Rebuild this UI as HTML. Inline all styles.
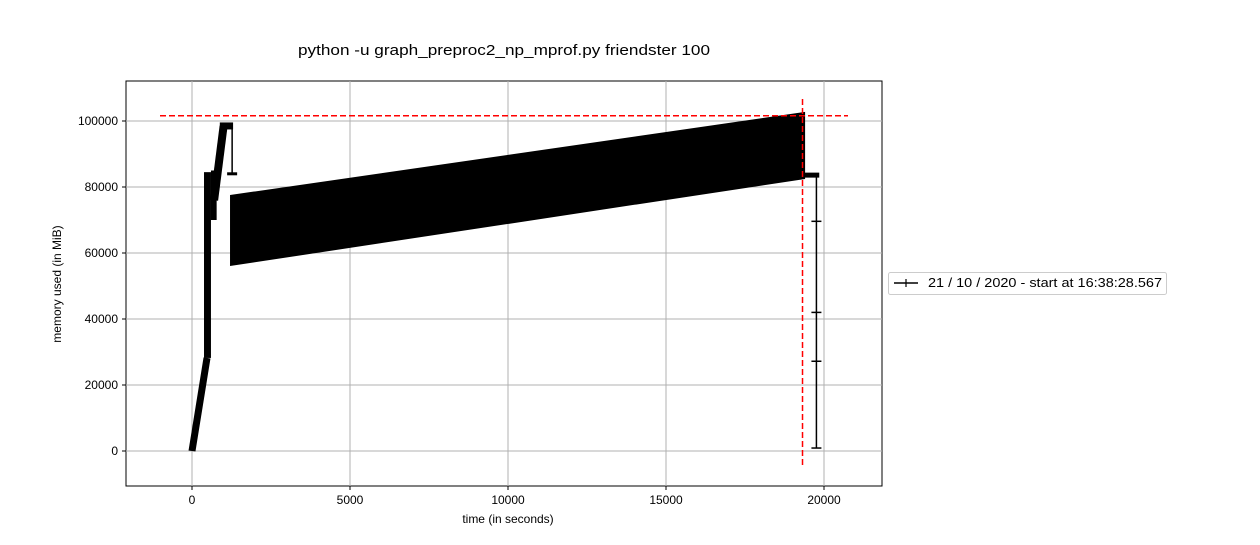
<!DOCTYPE html>
<html><head><meta charset="utf-8"><style>
body{margin:0;background:#fff;width:1260px;height:540px;overflow:hidden}
svg text{font-family:"Liberation Sans","DejaVu Sans",sans-serif;fill:#000}
</style></head><body>
<svg id="c" width="1260" height="540"></svg>
<script>
// data (time in s, memory in MiB)
const xTicks=[0,5000,10000,15000,20000];
const yTicks=[0,20000,40000,60000,80000,100000];
const startT=[0,475];            const startM=[0,28200];
const blockT=[380,600];          const blockM=[28200,84500];
const block2T=[600,780];         const block2M=[70000,85000];
const climbT=[700,1000];         const climbM=[76000,98500];
const flatT=[880,1300];          const flatM=[98500,98500];
const dropT=[1270,1270];         const dropM=[98500,84000];
const bandT=[1235,19370];        const bandTop=[77300,102400]; const bandBot=[56400,82700];
const tailT=[19370,19850];       const tailM=[83600,83600];
const fallT=[19760,19760];       const fallM=[83600,900];
const fallMarks=[69600,42000,27200,900];
const peakM=101600, peakT=19320;
const X=t=>192+(t/5000)*158, Y=m=>451-(m/20000)*66;
const svg=document.getElementById('c'),NS='http://www.w3.org/2000/svg';
function el(tag,attrs,name,txt){const e=document.createElementNS(NS,tag);for(const k in attrs)e.setAttribute(k,attrs[k]);


if(txt!==undefined)e.textContent=txt;svg.appendChild(e);return e;}
el('rect',{x:126,y:81,width:756,height:405,fill:'#fff',stroke:'#000','stroke-width':1},'plot-area');
xTicks.forEach(t=>{const x=X(t);el('line',{x1:x,x2:x,y1:81,y2:486,stroke:'#b0b0b0'},'x-gridline');
el('line',{x1:x,x2:x,y1:486,y2:490,stroke:'#000'},'x-tick');
el('text',{x:x,y:504,'text-anchor':'middle','font-size':12},'x-tick-label',String(t));});
yTicks.forEach(m=>{const y=Y(m);el('line',{x1:126,x2:882,y1:y,y2:y,stroke:'#b0b0b0'},'y-gridline');
el('line',{x1:122,x2:126,y1:y,y2:y,stroke:'#000'},'y-tick');
el('text',{x:118,y:y+4,'text-anchor':'end','font-size':12},'y-tick-label',String(m));});
const pts=(ts,ms)=>ts.map((t,i)=>X(t)+','+Y(ms[i])).join(' ');
const rect=(ts,ms,name)=>el('rect',{x:X(ts[0]),y:Y(ms[1]),width:X(ts[1])-X(ts[0]),height:Y(ms[0])-Y(ms[1]),fill:'#000'},name);
el('polyline',{points:pts(startT,startM),fill:'none',stroke:'#000','stroke-width':7},'ramp-segment');
rect(blockT,blockM,'jump-block');
rect(block2T,block2M,'upper-block');
el('polyline',{points:pts(climbT,climbM),fill:'none',stroke:'#000','stroke-width':8},'climb-segment');
el('polyline',{points:pts(flatT,flatM),fill:'none',stroke:'#000','stroke-width':7},'flat-segment');
el('polyline',{points:pts(dropT,dropM),fill:'none',stroke:'#000','stroke-width':1.5},'drop-line');
el('line',{x1:X(dropT[0])-5,x2:X(dropT[0])+5,y1:Y(dropM[1]),y2:Y(dropM[1]),stroke:'#000','stroke-width':3},'drop-marker');
el('polygon',{points:pts(bandT,bandTop)+' '+pts(bandT.slice().reverse(),bandBot.slice().reverse()),fill:'#000',stroke:'#000','stroke-width':2},'oscillation-band');
el('polyline',{points:pts(tailT,tailM),fill:'none',stroke:'#000','stroke-width':5},'tail-segment');
el('polyline',{points:pts(fallT,fallM),fill:'none',stroke:'#000','stroke-width':1.5},'final-drop');
fallMarks.forEach(m=>el('line',{x1:X(fallT[0])-5,x2:X(fallT[0])+5,y1:Y(m),y2:Y(m),stroke:'#000','stroke-width':1.5},'marker'));
el('line',{x1:160,x2:848,y1:Y(peakM),y2:Y(peakM),stroke:'#f00','stroke-width':1.5,'stroke-dasharray':'6,3'},'peak-memory-line');
el('line',{x1:X(peakT),x2:X(peakT),y1:99,y2:467,stroke:'#f00','stroke-width':1.5,'stroke-dasharray':'6,3'},'peak-time-line');
el('text',{x:298,y:55,'font-size':14.5,textLength:412,lengthAdjust:'spacingAndGlyphs'},'chart-title','python -u graph_preproc2_np_mprof.py friendster 100');
el('text',{x:508,y:523,'text-anchor':'middle','font-size':12},'x-axis-title','time (in seconds)');
el('text',{x:61,y:284,'text-anchor':'middle','font-size':12,transform:'rotate(-90 61 284)'},'y-axis-title','memory used (in MiB)');
el('rect',{x:888.5,y:272.5,width:278,height:22,rx:2,fill:'#fff',stroke:'#ccc'},'legend-box');
el('line',{x1:894,x2:918,y1:283,y2:283,stroke:'#000','stroke-width':1.5},'legend-line');
el('line',{x1:906,x2:906,y1:279,y2:287,stroke:'#000','stroke-width':1.2},'legend-marker');
el('text',{x:928,y:287,'font-size':12.5,textLength:234,lengthAdjust:'spacingAndGlyphs'},'legend-entry','21 / 10 / 2020 - start at 16:38:28.567');
</script>
</body></html>
